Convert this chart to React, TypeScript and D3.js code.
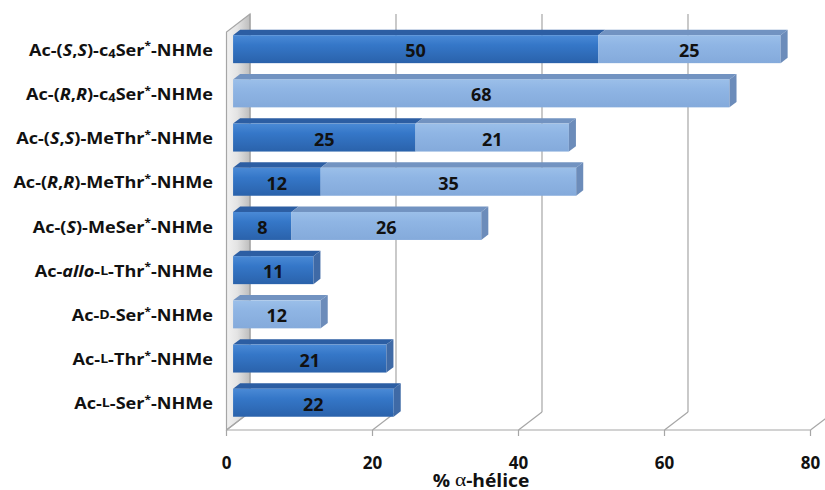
import React from 'react';
import * as d3 from 'd3';

// Compounds, top to bottom
const categories = [
  'SS-c4Ser', 'RR-c4Ser', 'SS-MeThr', 'RR-MeThr', 'S-MeSer',
  'allo-L-Thr', 'D-Ser', 'L-Thr', 'L-Ser',
];
// Rich label text: [text, style] with style '' | 'i' | 'sub' | 'sup' | 'sc'
const labelParts: [string, string][][] = [
  [['Ac-(', ''], ['S', 'i'], [',', ''], ['S', 'i'], [')-c', ''], ['4', 'sub'], ['Ser', ''], ['*', 'sup'], ['-NHMe', '']],
  [['Ac-(', ''], ['R', 'i'], [',', ''], ['R', 'i'], [')-c', ''], ['4', 'sub'], ['Ser', ''], ['*', 'sup'], ['-NHMe', '']],
  [['Ac-(', ''], ['S', 'i'], [',', ''], ['S', 'i'], [')-MeThr', ''], ['*', 'sup'], ['-NHMe', '']],
  [['Ac-(', ''], ['R', 'i'], [',', ''], ['R', 'i'], [')-MeThr', ''], ['*', 'sup'], ['-NHMe', '']],
  [['Ac-(', ''], ['S', 'i'], [')-MeSer', ''], ['*', 'sup'], ['-NHMe', '']],
  [['Ac-', ''], ['allo', 'i'], ['-', ''], ['L', 'sc'], ['-Thr', ''], ['*', 'sup'], ['-NHMe', '']],
  [['Ac-', ''], ['D', 'sc'], ['-Ser', ''], ['*', 'sup'], ['-NHMe', '']],
  [['Ac-', ''], ['L', 'sc'], ['-Thr', ''], ['*', 'sup'], ['-NHMe', '']],
  [['Ac-', ''], ['L', 'sc'], ['-Ser', ''], ['*', 'sup'], ['-NHMe', '']],
];
const darkValues = [50, 0, 25, 12, 8, 11, 0, 21, 22];
const lightValues = [25, 68, 21, 35, 26, 0, 12, 0, 0];
const xTicks = [0, 20, 40, 60, 80];

const FONT = '"Open Sans", Lato, sans-serif';
const W = 825;
const H = 490;

// Oblique projection for the 3D box
const DX = 23.5;
const DY = 18;
const D0 = 0.28; // bar front depth
const D1 = 0.58; // bar back depth
const FLOOR_Y = 430;
const TOP_Y = 32;

const x = d3.scaleLinear().domain([0, 80]).range([226.5, 810.5]);
const y = d3.scaleBand<string>().domain(categories).range([TOP_Y, FLOOR_Y]).paddingInner(0.367).paddingOuter(0.186);

const series = [
  { key: 'dark', values: darkValues, front: 'url(#gDark)', top: '#2c5ea3', end: '#3f6aa6' },
  { key: 'light', values: lightValues, front: 'url(#gLight)', top: '#7293c1', end: '#6c8cba' },
];

function RichLabel({ parts, xPos, yPos }: { parts: [string, string][]; xPos: number; yPos: number }) {
  let shift = 0;
  const spans = parts.map(([t, s], i) => {
    let target = 0;
    let size: number | undefined;
    let style: string | undefined;
    if (s === 'sub') { target = 4; size = 11.5; }
    if (s === 'sup') { target = -4.5; size = 10.5; }
    if (s === 'sc') { size = 12.5; }
    if (s === 'i') style = 'italic';
    const dy = target - shift;
    shift = target;
    return (
      <tspan key={i} dy={dy || undefined} fontSize={size} fontStyle={style}>{t}</tspan>
    );
  });
  return (
    <text transform={`translate(${xPos},${yPos}) scale(1.13,1)`} textAnchor="end" fontFamily={FONT}
      fontWeight={700} fontSize={16} fill="#111" dominantBaseline="central">
      {spans}
    </text>
  );
}

export default function App() {
  const s0x = D0 * DX, s0y = -D0 * DY;
  const s1x = D1 * DX, s1y = -D1 * DY;
  const stackData = categories.map((c, i) => {
    let acc = 0;
    const segs = series.map((s) => {
      const v = s.values[i];
      const seg = { s, v, a: acc, b: acc + v };
      acc += v;
      return seg;
    }).filter((g) => g.v > 0);
    return { c, i, segs, total: acc };
  });

  return (
    <svg width={W} height={H} style={{ position: 'absolute', left: 0, top: 0, background: '#fff' }}>
      <defs>
        <linearGradient id="gDark" x1="0" y1="0" x2="0" y2="1">
          <stop offset="0" stopColor="#4a8ad6" />
          <stop offset="0.35" stopColor="#3577c8" />
          <stop offset="1" stopColor="#2a62ab" />
        </linearGradient>
        <linearGradient id="gLight" x1="0" y1="0" x2="0" y2="1">
          <stop offset="0" stopColor="#9bbfe9" />
          <stop offset="0.35" stopColor="#8fb5e4" />
          <stop offset="1" stopColor="#84aadb" />
        </linearGradient>
        <linearGradient id="gWall" x1="0" y1="0" x2="1" y2="0">
          <stop offset="0" stopColor="#f2f2f2" />
          <stop offset="0.45" stopColor="#e4e4e4" />
          <stop offset="1" stopColor="#bdbdbd" />
        </linearGradient>
      </defs>

      {/* left side wall */}
      <polygon
        points={`${x(0)},${FLOOR_Y} ${x(0)},${TOP_Y} ${x(0) + DX},${TOP_Y - DY} ${x(0) + DX},${FLOOR_Y - DY}`}
        fill="url(#gWall)" stroke="#a6a6a6" strokeWidth={1.2}
      />

      {/* gridlines: floor diagonals and back-wall verticals */}
      {xTicks.map((t) => (
        <g key={t} stroke="#a6a6a6" strokeWidth={1.2} fill="none">
          <line x1={x(t)} y1={FLOOR_Y} x2={x(t) + DX} y2={FLOOR_Y - DY} />
          <line x1={x(t) + DX} y1={FLOOR_Y - DY} x2={x(t) + DX} y2={TOP_Y - DY} />
          <line x1={x(t)} y1={FLOOR_Y} x2={x(t)} y2={FLOOR_Y + 6} />
        </g>
      ))}
      <line x1={x(0)} y1={FLOOR_Y} x2={x(80)} y2={FLOOR_Y} stroke="#a6a6a6" strokeWidth={1.2} />

      {/* bars */}
      {stackData.map((d) => {
        const yt = y(d.c)!;
        const yb = yt + y.bandwidth();
        const ft = yt + s0y, fb = yb + s0y;
        const bt = yt + s1y, bb = yb + s1y;
        const last = d.segs[d.segs.length - 1];
        const xe = x(d.total);
        return (
          <g key={d.c}>
            {d.segs.map((g) => {
              const xa = x(g.a), xb = x(g.b);
              return (
                <g key={g.s.key}>
                  <polygon
                    points={`${xa + s0x},${ft} ${xb + s0x},${ft} ${xb + s1x},${bt} ${xa + s1x},${bt}`}
                    fill={g.s.top}
                  />
                  <rect x={xa + s0x} y={ft} width={xb - xa} height={fb - ft} fill={g.s.front} />
                </g>
              );
            })}
            <polygon
              points={`${xe + s0x},${ft} ${xe + s1x},${bt} ${xe + s1x},${bb} ${xe + s0x},${fb}`}
              fill={last.s.end}
            />
            {d.segs.map((g) => (
              <text
                key={'t' + g.s.key}
                x={(x(g.a) + x(g.b)) / 2 + s0x}
                y={(ft + fb) / 2 + 1}
                textAnchor="middle"
                dominantBaseline="central"
                fontFamily={FONT}
                fontWeight={700}
                fontSize={18}
                fill="#111"
              >
                {g.v}
              </text>
            ))}
            <RichLabel parts={labelParts[d.i]} xPos={213} yPos={(ft + fb) / 2} />
          </g>
        );
      })}

      {/* x tick labels */}
      {xTicks.map((t) => (
        <text key={'xt' + t} x={x(t)} y={462} textAnchor="middle" dominantBaseline="central"
          fontFamily={FONT} fontWeight={700} fontSize={17} fill="#111">
          {t}
        </text>
      ))}

      {/* axis title */}
      <text transform="translate(481,479.5) scale(1.1,1)" textAnchor="middle" dominantBaseline="central"
        fontFamily={FONT} fontWeight={700} fontSize={17.5} fill="#111">
        <tspan>% </tspan>
        <tspan fontFamily='"Liberation Serif", "DejaVu Serif", serif' fontWeight={400} fontSize={19.5}>α</tspan>
        <tspan>-hélice</tspan>
      </text>
    </svg>
  );
}
